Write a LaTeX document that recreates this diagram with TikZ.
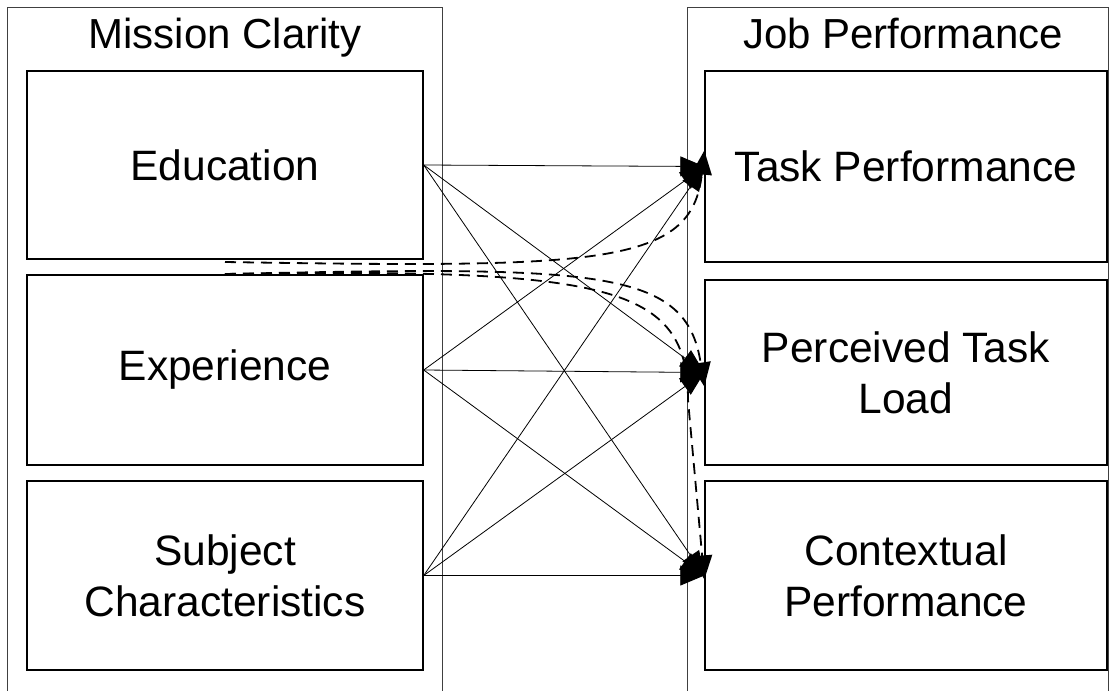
\documentclass[tikz,border=0pt]{standalone}
\usepackage{fontspec}
\setmainfont{Liberation Sans}
\usetikzlibrary{arrows.meta}
\begin{document}
\begin{tikzpicture}[x=1pt,y=-1pt,
  box/.style={draw=black, line width=1.4pt, inner sep=0pt, align=center,
    font=\fontsize{42.5}{51}\selectfont},
  group/.style={draw=black!75, line width=1.4pt, inner sep=0pt},
  title/.style={inner sep=0pt, anchor=base, font=\fontsize{42}{48}\selectfont},
  link/.style={line width=0.8pt, -{Triangle[length=24pt,width=20pt]}},
  dlink/.style={line width=1.8pt, dash pattern=on 11pt off 7pt, -{Triangle[length=24pt,width=20pt]}}]
\useasboundingbox (0,0) rectangle (1112,691);
% group frames
\node[group, minimum width=435pt, minimum height=720pt, anchor=north west] (mcbox) at (7,7) {};
\node[group, minimum width=421pt, minimum height=720pt, anchor=north west] (jpbox) at (687,7) {};
\node[title] (mct) at (225,48) {Mission Clarity};
\node[title] (jpt) at (903,48) {Job Performance};
% left boxes
\node[box, minimum width=396pt, minimum height=188pt] (edu) at (225,165) {Education};
\node[box, minimum width=396pt, minimum height=190pt] (exp) at (225,370) {Experience};
\node[box, minimum width=396pt, minimum height=189pt] (sub) at (225,575.5) {Subject\\Characteristics};
% right boxes
\node[box, minimum width=402pt, minimum height=191pt] (task) at (906,166.5) {Task Performance};
\node[box, minimum width=402pt, minimum height=185pt] (load) at (906,372.5) {Perceived Task\\Load};
\node[box, minimum width=402pt, minimum height=189pt] (ctx) at (906,575.5) {Contextual\\Performance};
% dashed paths
\coordinate (d1) at (225,262);
\coordinate (d2) at (225,274);
\draw[dlink] (d1) .. controls (600,268) and (692,266) .. ([yshift=16pt]task.west);
\draw[dlink] (d2) .. controls (600,266) and (686,268) .. ([yshift=-14pt]load.west);
\draw[dlink] (d2) .. controls (610,268) and (688,285) .. (688,400) -- ([yshift=-4pt]ctx.west);
% solid links
\foreach \s in {edu,exp,sub}{
  \foreach \t in {task,load,ctx}{
    \draw[link] (\s.east) -- (\t.west);
  }
}
\end{tikzpicture}
\end{document}
